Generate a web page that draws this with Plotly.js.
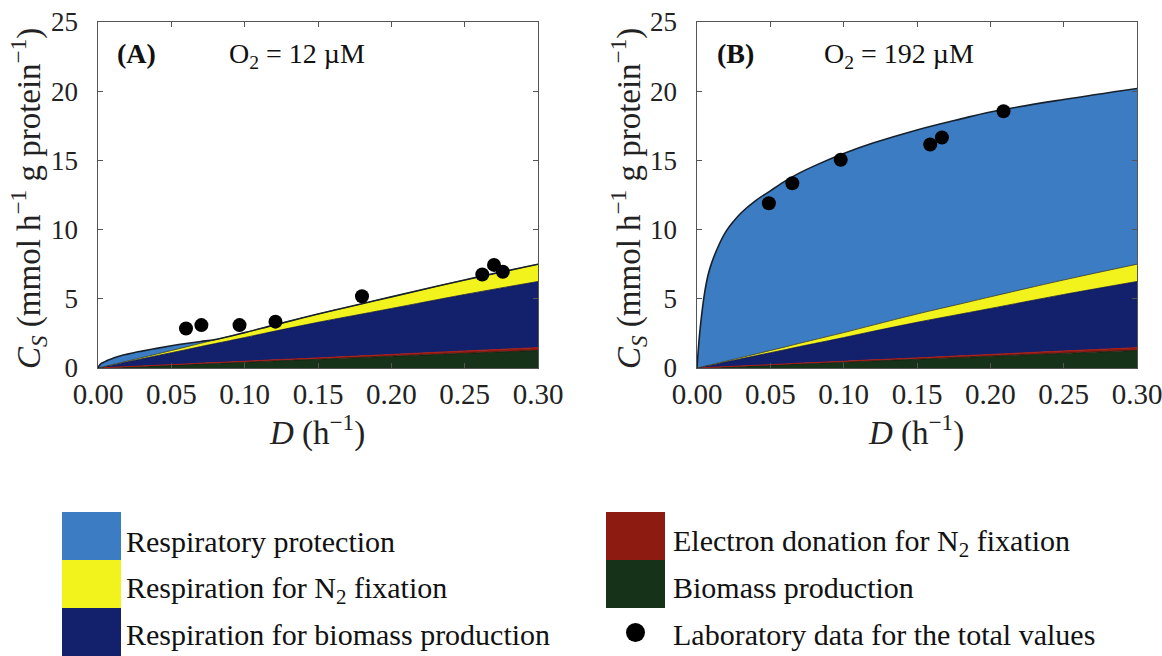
<!DOCTYPE html>
<html><head><meta charset="utf-8">
<script src="https://cdn.plot.ly/plotly-3.0.1.min.js"></script>
<style>html,body{margin:0;padding:0;background:#fff}#chart{width:1162px;height:656px}</style>
</head><body><div id="chart"></div>
<script>
// ---- data ----
const D = [0, 0.001, 0.0025, 0.005, 0.0075, 0.01, 0.015, 0.02, 0.025, 0.03, 0.04, 0.05, 0.06, 0.07, 0.08, 0.1, 0.12, 0.15, 0.18, 0.2, 0.25, 0.3];
const biomassProduction = [0, 0.004, 0.011, 0.021, 0.032, 0.042, 0.063, 0.085, 0.106, 0.127, 0.169, 0.21, 0.25, 0.3, 0.34, 0.42, 0.51, 0.63, 0.76, 0.85, 1.06, 1.27];
const electronDonation = [0, 0.001, 0.002, 0.003, 0.005, 0.007, 0.01, 0.013, 0.017, 0.02, 0.027, 0.033, 0.04, 0.047, 0.053, 0.067, 0.08, 0.1, 0.12, 0.13, 0.17, 0.2];
const respBiomass = [0, 0.02, 0.04, 0.09, 0.13, 0.17, 0.26, 0.35, 0.43, 0.52, 0.69, 0.86, 1.03, 1.2, 1.37, 1.71, 2.06, 2.57, 3.02, 3.32, 4.08, 4.78];
const respN2 = [0, 0.003, 0.007, 0.013, 0.02, 0.027, 0.04, 0.055, 0.07, 0.085, 0.12, 0.16, 0.2, 0.24, 0.28, 0.36, 0.45, 0.6, 0.74, 0.84, 1.05, 1.25];
const protectionA = [0, 0.17, 0.29, 0.35, 0.41, 0.45, 0.5, 0.5, 0.5, 0.47, 0.41, 0.34, 0.25, 0.13, 0.02, 0, 0, 0, 0, 0, 0, 0];
const protectionB = [0, 1.47, 3.14, 5.17, 6.51, 7.35, 8.53, 9.4, 9.98, 10.45, 11.09, 11.54, 11.98, 12.31, 12.56, 12.94, 13.15, 13.3, 13.36, 13.36, 13.04, 12.7];
const labA_D = [0.06, 0.0705, 0.0965, 0.121, 0.18, 0.262, 0.27, 0.276];
const labA_C = [2.85, 3.1, 3.1, 3.35, 5.18, 6.76, 7.45, 6.95];
const labB_D = [0.049, 0.065, 0.098, 0.159, 0.167, 0.209];
const labB_C = [11.9, 13.35, 15.05, 16.15, 16.65, 18.55];
const xTicks = [0, 0.05, 0.1, 0.15, 0.2, 0.25, 0.3];
const yTicks = [0, 5, 10, 15, 20, 25];
const yTickLabels = ['0', '5', '10', '15', '20', '25'];
const xTitle = '<i>D</i> (h<sup>−1</sup>)';
const yTitle = '<i>C<sub>S</sub></i> (mmol h<sup>−1</sup> g protein<sup>−1</sup>)';
const panelLabels = ['<b>(A)</b>', '<b>(B)</b>'];
const panelO2 = ['O<sub>2</sub> = 12 µM', 'O<sub>2</sub> = 192 µM'];
const legendLabels = ['Respiratory protection', 'Respiration for N<sub>2</sub> fixation', 'Respiration for biomass production',
  'Electron donation for N<sub>2</sub> fixation', 'Biomass production', 'Laboratory data for the total values'];

// ---- styles ----
const C = {prot:'#3b7cc2', n2:'#f2f21c', rb:'#13206c', red:'#8e1b12', bio:'#163218'};
const SERIF = '"Liberation Serif", "Times New Roman", serif';
const PAD = '\u00a0\u00a0';

function stackTraces(xa, ya, grp, prot){
  const base = {x:D, xaxis:xa, yaxis:ya, stackgroup:grp, mode:'lines', hoverinfo:'skip', showlegend:false};
  return [
    Object.assign({}, base, {y:biomassProduction, fillcolor:C.bio, line:{color:'#0c1c0c', width:0.8, shape:'spline'}}),
    Object.assign({}, base, {y:electronDonation, fillcolor:C.red, line:{color:'#a81d14', width:1.0, shape:'spline'}}),
    Object.assign({}, base, {y:respBiomass, fillcolor:C.rb, line:{color:'#0a0f3a', width:0.8, shape:'spline'}}),
    Object.assign({}, base, {y:respN2, fillcolor:C.n2, line:{color:'#3a3a20', width:0.8, shape:'spline'}}),
    Object.assign({}, base, {y:prot, fillcolor:C.prot, line:{color:'#17212c', width:1.6, shape:'spline'}})
  ];
}
const dots = (x,y,xa,ya)=>({x:x, y:y, xaxis:xa, yaxis:ya, mode:'markers', type:'scatter', showlegend:false, hoverinfo:'skip', marker:{color:'#000', size:14}});

const data = [].concat(
  stackTraces('x','y','A',protectionA), [dots(labA_D,labA_C,'x','y')],
  stackTraces('x2','y2','B',protectionB), [dots(labB_D,labB_C,'x2','y2')]
);

const W=1162, H=656;
const px = v=>v/W, py = v=>1-v/H;
const axisCommon = {showline:true, mirror:'allticks', linecolor:'#555', linewidth:1, ticks:'inside', ticklen:5, tickcolor:'#555',
  showgrid:false, zeroline:false, fixedrange:true, ticklabeloverflow:'allow'};
const xAxis = dom => Object.assign({}, axisCommon, {domain:dom, range:[0,0.3], tickvals:xTicks, tickformat:'.2f',
  tickfont:{family:SERIF, size:29, color:'#222'}});
const yAxis = (anchor) => Object.assign({}, axisCommon, {domain:[py(368), py(22)], range:[0,25], tickvals:yTicks,
  ticktext:yTickLabels.map(t=>t+PAD), anchor:anchor, tickfont:{family:SERIF, size:27, color:'#222'}});

const shapes = [], annotations = [];
const panelX = [[98,538],[697,1137]];
const yTitleX = [28, 628];
for (let k=0;k<2;k++){
  const cx = (panelX[k][0]+panelX[k][1])/2;
  annotations.push({xref:'paper', yref:'paper', x:px(cx-1), y:py(430), xanchor:'center', yanchor:'middle', text:xTitle, showarrow:false, font:{family:SERIF, size:33, color:'#222'}});
  annotations.push({xref:'paper', yref:'paper', x:px(yTitleX[k]), y:py(199), xanchor:'center', yanchor:'middle', textangle:-90, text:yTitle, showarrow:false, font:{family:SERIF, size:33, color:'#222'}});
  annotations.push({xref:'paper', yref:'paper', x:px(panelX[k][0]+38), y:py(54), xanchor:'center', yanchor:'middle', text:panelLabels[k], showarrow:false, font:{family:SERIF, size:28, color:'#111'}});
  annotations.push({xref:'paper', yref:'paper', x:px(panelX[k][0]+(k===0?199:202)), y:py(55), xanchor:'center', yanchor:'middle', text:panelO2[k], showarrow:false, font:{family:SERIF, size:28, color:'#111'}});
}
// legend
const legColors = [C.prot, C.n2, C.rb, C.red, C.bio];
const rows = [[512,560],[560,608],[608,656]];
const textY = [541, 590, 634, 543, 587, 634];
for (let i=0;i<6;i++){
  const col = i<3?0:1, r = i%3;
  const x0 = col===0?62:606, x1 = col===0?121:665, tx = col===0?124:671;
  if (i<5) shapes.push({type:'rect', xref:'paper', yref:'paper', x0:px(x0), x1:px(x1), y0:py(rows[r][1]), y1:py(rows[r][0]), fillcolor:legColors[i], line:{width:0}});
  else shapes.push({type:'circle', xref:'paper', yref:'paper', x0:px(626), x1:px(645), y0:py(642), y1:py(623), fillcolor:'#000', line:{width:0}});
  annotations.push({xref:'paper', yref:'paper', x:px(tx), y:py(textY[i]), xanchor:'left', yanchor:'middle', text:legendLabels[i], showarrow:false, font:{family:SERIF, size:30, color:'#111'}});
}

const layout = {
  width:W, height:H, margin:{l:0,r:0,t:0,b:0}, paper_bgcolor:'#fff', plot_bgcolor:'#fff', showlegend:false,
  xaxis: Object.assign(xAxis([px(98), px(538)]), {anchor:'y'}), yaxis: yAxis('x'),
  xaxis2: Object.assign(xAxis([px(697), px(1137)]), {anchor:'y2'}), yaxis2: yAxis('x2'),
  shapes:shapes, annotations:annotations
};
Plotly.newPlot('chart', data, layout, {displayModeBar:false, staticPlot:true});
</script></body></html>
